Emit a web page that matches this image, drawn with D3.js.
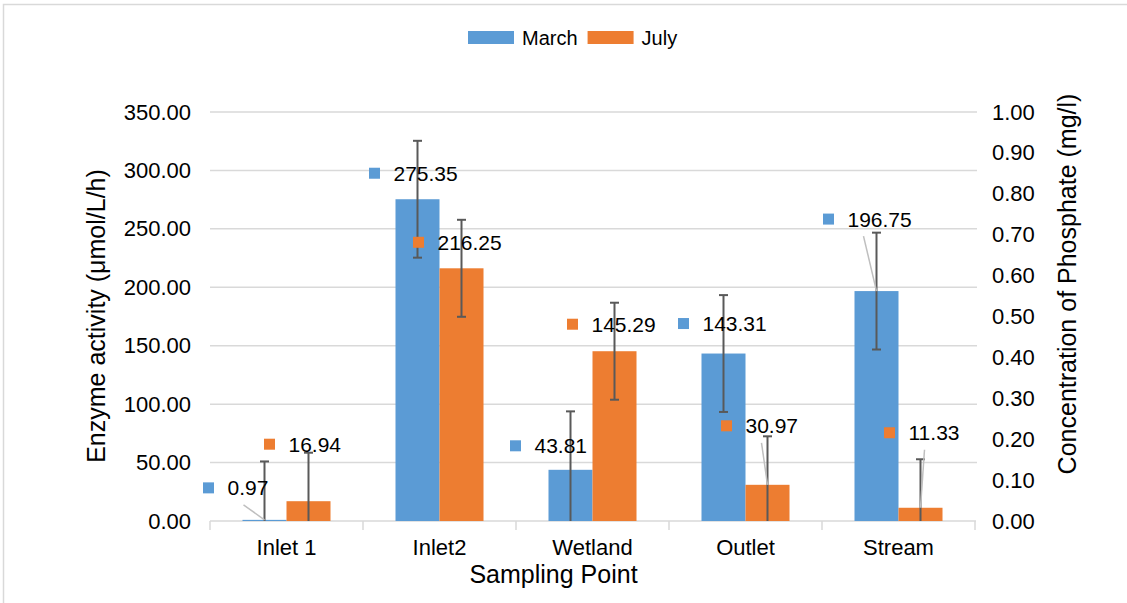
<!DOCTYPE html>
<html>
<head>
<meta charset="utf-8">
<script src="https://cdn.jsdelivr.net/npm/d3@7"></script>
<style>
  html, body { margin: 0; padding: 0; background: #fff; }
  svg { display: block; font-family: "Liberation Sans", Arial, sans-serif; }
</style>
</head>
<body>
<svg id="chart" width="1127" height="603"></svg>
<script>
// ---- data ----
const categories = ["Inlet 1", "Inlet2", "Wetland", "Outlet", "Stream"];
const seriesNames = ["March", "July"];
const marchValues = [0.97, 275.35, 43.81, 143.31, 196.75];
const julyValues = [16.94, 216.25, 145.29, 30.97, 11.33];
const marchErrors = [50, 50, 50, 50, 50];
const julyErrors = [41.5, 41.5, 41.5, 41.5, 41.5];
const leftTicks = [0, 50, 100, 150, 200, 250, 300, 350];
const rightTicks = [0, 0.1, 0.2, 0.3, 0.4, 0.5, 0.6, 0.7, 0.8, 0.9, 1.0];
// label placement (pixel offsets of the label key from the bar top) and leader lines
const marchLabelOffsets = [[-56, -32], [-43, -26], [-55, -24], [-40, -30], [-48, -72]];
const julyLabelOffsets = [[-39, -57], [-43, -26], [-42, -27], [-41, -59], [-31, -75]];
const marchLeaders = [true, false, false, false, true];
const julyLeaders = [false, false, false, true, true];

const colors = { March: "#5B9BD5", July: "#ED7D31" };

const svg = d3.select("#chart");
const W = 1127, H = 603;
const plot = { left: 210, right: 975, top: 112, bottom: 521 };

// chart border
svg.append("rect").attr("x", 3.5).attr("y", 4.5).attr("width", W + 10).attr("height", H + 10)
  .attr("fill", "#fff").attr("stroke", "#d9d9d9").attr("stroke-width", 1.5);

const x = d3.scaleBand().domain(categories).range([plot.left, plot.right]).paddingInner(0).paddingOuter(0);
const groupPad = 0.2124; // fraction of band left on each side
const xs = d3.scaleBand().domain(seriesNames)
  .range([x.bandwidth() * groupPad, x.bandwidth() * (1 - groupPad)]).padding(0);
const y = d3.scaleLinear().domain([0, 350]).range([plot.bottom, plot.top]);
const yR = d3.scaleLinear().domain([0, 1]).range([plot.bottom, plot.top]);

// gridlines
svg.append("g").selectAll("line").data(leftTicks.filter(d => d > 0)).join("line")
  .attr("x1", plot.left).attr("x2", plot.right + 2)
  .attr("y1", d => y(d)).attr("y2", d => y(d))
  .attr("stroke", "#d9d9d9").attr("stroke-width", 1.5);

// left axis
const yAxis = d3.axisLeft(y).tickValues(leftTicks).tickFormat(d3.format(".2f")).tickSize(0).tickPadding(19);
const gl = svg.append("g").attr("transform", `translate(${plot.left},0)`).call(yAxis);
gl.select(".domain").remove();
gl.selectAll("text").attr("font-size", 22).attr("fill", "#000").attr("font-family", "Liberation Sans, Arial, sans-serif");

// right axis
const yAxisR = d3.axisRight(yR).tickValues(rightTicks).tickFormat(d3.format(".2f")).tickSize(0).tickPadding(17);
const gr = svg.append("g").attr("transform", `translate(${plot.right},0)`).call(yAxisR);
gr.select(".domain").remove();
gr.selectAll("text").attr("font-size", 22).attr("fill", "#000").attr("font-family", "Liberation Sans, Arial, sans-serif");

// x axis
const gx = svg.append("g");
gx.append("line").attr("x1", plot.left).attr("x2", plot.right + 1)
  .attr("y1", plot.bottom).attr("y2", plot.bottom)
  .attr("stroke", "#d9d9d9").attr("stroke-width", 1.5);
const dividers = categories.map(c => x(c)).concat([x(categories[categories.length - 1]) + x.bandwidth()]);
gx.selectAll("line.tk").data(dividers).join("line").attr("class", "tk")
  .attr("x1", d => d).attr("x2", d => d).attr("y1", plot.bottom).attr("y2", plot.bottom + 9)
  .attr("stroke", "#d9d9d9").attr("stroke-width", 1.5);
gx.selectAll("text").data(categories).join("text")
  .attr("x", d => x(d) + x.bandwidth() / 2).attr("y", 555)
  .attr("text-anchor", "middle").attr("font-size", 22).attr("fill", "#000")
  .text(d => d);

// axis titles
svg.append("text").attr("transform", `translate(105,316) rotate(-90)`)
  .attr("text-anchor", "middle").attr("font-size", 25).attr("fill", "#000")
  .text("Enzyme activity (μmol/L/h)");
svg.append("text").attr("transform", `translate(1076,284) rotate(-90)`)
  .attr("text-anchor", "middle").attr("font-size", 25).attr("fill", "#000")
  .text("Concentration of Phosphate (mg/l)");
svg.append("text").attr("x", (plot.left + plot.right) / 2 - 39).attr("y", 583)
  .attr("text-anchor", "middle").attr("font-size", 25).attr("fill", "#000")
  .text("Sampling Point");

// build rows
const series = [
  { name: "March", values: marchValues, errors: marchErrors, offsets: marchLabelOffsets, leaders: marchLeaders },
  { name: "July", values: julyValues, errors: julyErrors, offsets: julyLabelOffsets, leaders: julyLeaders }
];
const rows = [];
series.forEach(s => categories.forEach((c, i) => rows.push({
  series: s.name, cat: c, value: s.values[i], err: s.errors[i], off: s.offsets[i], leader: s.leaders[i]
})));
const cx = d => x(d.cat) + xs(d.series) + xs.bandwidth() / 2;

// bars
svg.append("g").selectAll("rect").data(rows).join("rect")
  .attr("x", d => x(d.cat) + xs(d.series))
  .attr("width", xs.bandwidth())
  .attr("y", d => y(d.value))
  .attr("height", d => y(0) - y(d.value))
  .attr("fill", d => colors[d.series]);

// error bars
const eg = svg.append("g").attr("stroke", "#595959").attr("stroke-width", 2);
rows.forEach(d => {
  const lo = Math.max(0, d.value - d.err), hi = d.value + d.err;
  const X = cx(d);
  eg.append("line").attr("x1", X).attr("x2", X).attr("y1", y(lo)).attr("y2", y(hi));
  eg.append("line").attr("x1", X - 4.5).attr("x2", X + 4.5).attr("y1", y(hi)).attr("y2", y(hi));
  if (d.value - d.err > 0)
    eg.append("line").attr("x1", X - 4.5).attr("x2", X + 4.5).attr("y1", y(lo)).attr("y2", y(lo));
});

// leader lines
svg.append("g").selectAll("line").data(rows.filter(d => d.leader)).join("line")
  .attr("x1", d => cx(d) + d.off[0] + 35).attr("y1", d => y(d.value) + d.off[1] + 17)
  .attr("x2", d => cx(d)).attr("y2", d => y(d.value))
  .attr("stroke", "#bfbfbf").attr("stroke-width", 1.5);

// data labels
const lg = svg.append("g");
rows.forEach(d => {
  const kx = cx(d) + d.off[0], ky = y(d.value) + d.off[1];
  lg.append("rect").attr("x", kx - 5.5).attr("y", ky - 5.5).attr("width", 11).attr("height", 11)
    .attr("fill", colors[d.series]);
  lg.append("text").attr("x", kx + 19).attr("y", ky).attr("dy", "0.36em")
    .attr("font-size", 21).attr("fill", "#000").text(d3.format(".2f")(d.value));
});

// legend
const legend = svg.append("g");
let lx = 468;
seriesNames.forEach(n => {
  legend.append("rect").attr("x", lx).attr("y", 31).attr("width", 46).attr("height", 13).attr("fill", colors[n]);
  const t = legend.append("text").attr("x", lx + 54).attr("y", 45).attr("font-size", 20).attr("fill", "#000").text(n);
  lx = lx + 54 + t.node().getComputedTextLength() + 10;
});
</script>
</body>
</html>
